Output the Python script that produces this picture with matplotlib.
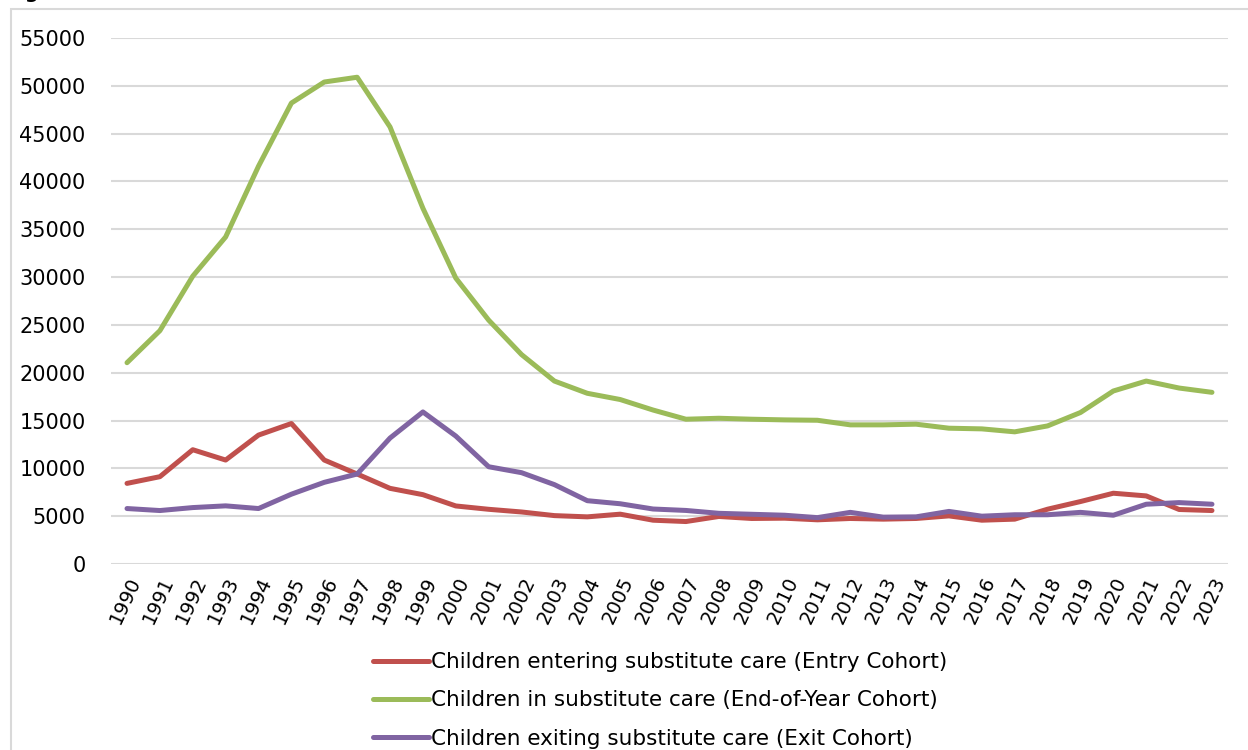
import matplotlib.pyplot as plt
from matplotlib.patches import Rectangle

# Yearly counts of children in substitute care
years = list(range(1990, 2024))

entry_cohort = [8430, 9130, 11950, 10870, 13480, 14690, 10870, 9410, 7910, 7250,
                6070, 5720, 5440, 5060, 4930, 5210, 4580, 4440, 4970, 4760,
                4790, 4620, 4760, 4690, 4760, 5030, 4580, 4690, 5730, 6530,
                7400, 7120, 5700, 5590]

end_of_year_cohort = [21050, 24400, 30100, 34200, 41600, 48200, 50400, 50900, 45700, 37200,
                      29900, 25500, 21900, 19130, 17850, 17200, 16100, 15140, 15240, 15140,
                      15070, 15030, 14550, 14550, 14620, 14200, 14130, 13820, 14440, 15840,
                      18090, 19130, 18400, 17950]

exit_cohort = [5800, 5590, 5900, 6080, 5800, 7300, 8540, 9410, 13170, 15900,
               13380, 10170, 9550, 8300, 6620, 6300, 5750, 5600, 5300, 5200,
               5100, 4850, 5400, 4900, 4930, 5500, 5000, 5150, 5150, 5400,
               5100, 6250, 6420, 6250]

series_labels = ['Children entering substitute care (Entry Cohort)',
                 'Children in substitute care (End-of-Year Cohort)',
                 'Children exiting substitute care (Exit Cohort)']
series_colors = ['#C0504D', '#9BBB59', '#8064A2']

plt.rcParams['font.family'] = ['DejaVu Sans']

fig = plt.figure(figsize=(12.48, 7.5), dpi=100)
ax = fig.add_axes([0.0886, 0.248, 0.8957, 0.7013])

# Chart frame (cut off on the right and bottom)
fig.patches.append(Rectangle((11 / 1248, -0.05), 1.1, 1 - 9 / 750 + 0.05,
                             transform=fig.transFigure, fill=False,
                             edgecolor='#D9D9D9', linewidth=1.5))

# Title sits mostly above the visible area
fig.text(5 / 1248, 1 + 2 / 750, 'Figure 1: Number of children in substitute care',
         fontsize=14, fontweight='bold', ha='left', va='baseline')

x = list(range(len(years)))
for values, label, color in zip([entry_cohort, end_of_year_cohort, exit_cohort],
                                 series_labels, series_colors):
    ax.plot(x, values, color=color, linewidth=3.6, label=label,
            solid_capstyle='round', solid_joinstyle='round')

ax.set_xlim(-0.5, len(years) - 0.5)
ax.set_ylim(0, 55000)
ax.set_yticks(range(0, 55001, 5000))
ax.set_xticks(x)
ax.set_xticklabels([str(y) for y in years], rotation=65, ha='right',
                   rotation_mode='anchor', fontsize=14)
ax.tick_params(axis='y', labelsize=15, length=0, pad=18)
ax.tick_params(axis='x', length=0, pad=7)
ax.grid(axis='y', color='#D9D9D9', linewidth=1.5)
ax.set_axisbelow(True)
for spine in ax.spines.values():
    spine.set_visible(False)

ax.legend(loc='upper center', bbox_to_anchor=(0.529, 0.142), bbox_transform=fig.transFigure,
          frameon=False, fontsize=15.5, handlelength=2.6, handletextpad=0.1,
          labelspacing=0.85, borderaxespad=0)

fig.savefig('out.png', dpi=100)
